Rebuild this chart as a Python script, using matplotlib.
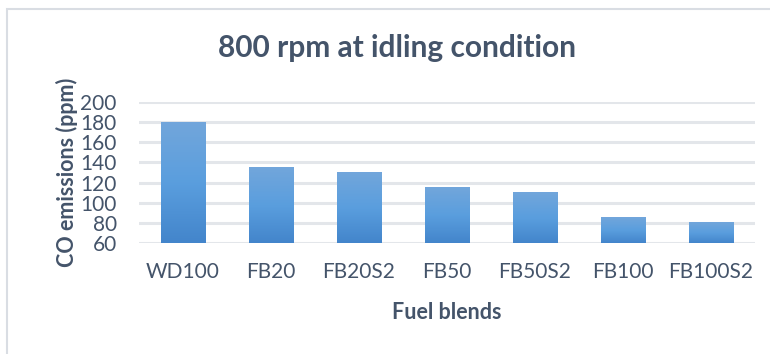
import numpy as np
import matplotlib
matplotlib.use('Agg')
import matplotlib.pyplot as plt
from matplotlib.patches import Rectangle
from matplotlib.colors import LinearSegmentedColormap

# Dữ liệu
blends = ['WD100', 'FB20', 'FB20S2', 'FB50', 'FB50S2', 'FB100', 'FB100S2']
co_ppm = [180, 135, 130, 115, 110, 85, 80]
y_ticks = [60, 80, 100, 120, 140, 160, 180, 200]

plt.rcParams['font.family'] = ['Lato', 'DejaVu Sans']
text_color = '#44546A'

fig = plt.figure(figsize=(7.7, 3.54), dpi=100)
# viền khung biểu đồ
fig.patches.append(Rectangle((7 / 770, -0.1), 1.2, 1 - 9 / 354 + 0.1, transform=fig.transFigure,
                             fill=False, edgecolor='#D9DDE3', linewidth=1.5))

ax = fig.add_axes([0.1805, 0.3136, 0.80, 0.3983])

# lưới ngang
for t in y_ticks:
    ax.axhline(t, color='#E3E6EA', linewidth=2.2, zorder=0)

# cột có màu chuyển dần
cmap = LinearSegmentedColormap.from_list('bar', ['#4385CB', '#5A9EDE', '#72A6DB'])
grad = np.linspace(0, 1, 256).reshape(-1, 1)
width = 0.51
for i, v in enumerate(co_ppm):
    ax.imshow(grad, cmap=cmap, origin='lower', aspect='auto',
              extent=(i - width / 2, i + width / 2, 60, v), zorder=2)
ax.set_xlim(-0.5, len(blends) - 0.5)
ax.set_ylim(60, 200)

ax.set_xticks(range(len(blends)))
ax.set_xticklabels(blends)
ax.set_yticks(y_ticks)
ax.tick_params(length=0, labelsize=15, colors=text_color)
ax.tick_params(axis='x', pad=14)
ax.tick_params(axis='y', pad=16)
for s in ax.spines.values():
    s.set_visible(False)

ax.set_xlabel('Fuel blends', fontsize=15.5, fontweight='bold', color=text_color, labelpad=14)
ax.set_ylabel('CO emissions (ppm)', fontsize=15.5, fontweight='bold', color=text_color, labelpad=2)
fig.text(0.515, 0.864, '800 rpm at idling condition', fontsize=21.5, fontweight='bold',
         color=text_color, ha='center', va='center')

fig.savefig('out.png', dpi=100)
